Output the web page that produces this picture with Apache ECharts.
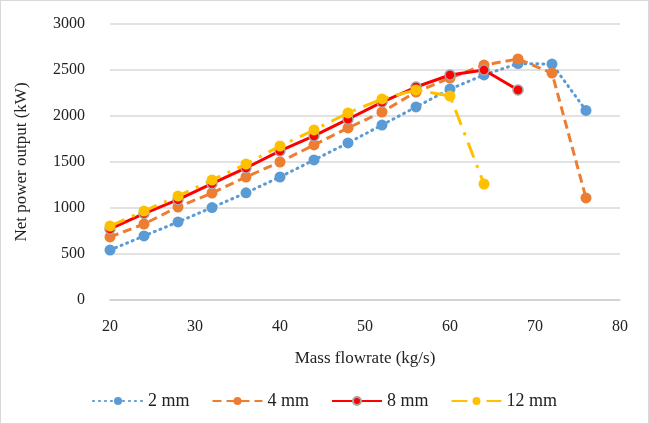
<!DOCTYPE html>
<html lang="en">
<head>
    <meta charset="UTF-8">
    <title>Net power output</title>
    <script src="https://cdn.jsdelivr.net/npm/echarts@6/dist/echarts.min.js"></script>
    <style>
        body { margin: 0; background: #fff; }
        #main { width: 647px; height: 422px; border: 1px solid #d9d9d9; }
    </style>
</head>
<body>
<div id="main"></div>
<script type="text/javascript">
    // mass flowrate (kg/s)
    var flow = [20, 24, 28, 32, 36, 40, 44, 48, 52, 56, 60, 64, 68, 72, 76];
    // net power output (kW)
    var mm2  = [543, 696, 848, 1005, 1165, 1337, 1522, 1707, 1902, 2098, 2293, 2446, 2570, 2565, 2060];
    var mm4  = [685, 826, 1011, 1163, 1337, 1500, 1685, 1870, 2043, 2261, 2413, 2554, 2620, 2467, 1109];
    var mm8  = [772, 940, 1090, 1265, 1435, 1620, 1783, 1965, 2150, 2315, 2446, 2500, 2283];
    var mm12 = [804, 967, 1130, 1304, 1478, 1674, 1848, 2033, 2185, 2283, 2217, 1261];
    var xTicks = [20, 30, 40, 50, 60, 70, 80];
    var yTicks = [0, 500, 1000, 1500, 2000, 2500, 3000];

    function pairs(v) {
        var out = [];
        for (var i = 0; i < v.length; i++) out.push([flow[i], v[i]]);
        return out;
    }

    var font = 'Liberation Serif';
    var myChart = echarts.init(document.getElementById('main'));
    var option = {
        animation: false,
        textStyle: { fontFamily: font },
        grid: { left: 109, right: 28, top: 23, bottom: 123 },
        legend: {
            bottom: 8,
            left: 'center',
            itemWidth: 50,
            itemHeight: 10,
            itemGap: 22,
            textStyle: { fontFamily: font, fontSize: 18, color: '#222' },
            data: ['2 mm', '4 mm', '8 mm', '12 mm']
        },
        xAxis: {
            type: 'value',
            min: xTicks[0],
            max: xTicks[xTicks.length - 1],
            interval: 10,
            name: 'Mass flowrate (kg/s)',
            nameLocation: 'middle',
            nameGap: 50,
            nameTextStyle: { fontFamily: font, fontSize: 17, color: '#222' },
            axisLine: { lineStyle: { color: '#d0d0d0', width: 1.5 } },
            axisTick: { show: false },
            splitLine: { show: false },
            axisLabel: { fontFamily: font, fontSize: 16, color: '#222', margin: 19 }
        },
        yAxis: {
            type: 'value',
            min: yTicks[0],
            max: yTicks[yTicks.length - 1],
            interval: 500,
            name: 'Net power output (kW)',
            nameLocation: 'middle',
            nameGap: 80,
            nameTextStyle: { fontFamily: font, fontSize: 17, color: '#222' },
            axisLine: { show: false },
            axisTick: { show: false },
            splitLine: { lineStyle: { color: '#d9d9d9', width: 1.5 } },
            axisLabel: {
                fontFamily: font, fontSize: 16, color: '#222', margin: 25,
                formatter: function (v) { return String(v); }
            }
        },
        series: [
            {
                name: '2 mm', type: 'line', data: pairs(mm2),
                symbol: 'circle', symbolSize: 11,
                itemStyle: { color: '#5B9BD5' },
                lineStyle: { color: '#5B9BD5', width: 3, type: [1, 5], cap: 'round' },
                z: 2
            },
            {
                name: '4 mm', type: 'line', data: pairs(mm4),
                symbol: 'circle', symbolSize: 11,
                itemStyle: { color: '#ED7D31' },
                lineStyle: { color: '#ED7D31', width: 3, type: [9, 5] },
                z: 3
            },
            {
                name: '8 mm', type: 'line', data: pairs(mm8),
                symbol: 'circle', symbolSize: 10,
                itemStyle: { color: '#FF0000', borderColor: '#A5A5A5', borderWidth: 1.5 },
                lineStyle: { color: '#FF0000', width: 3 },
                z: 4
            },
            {
                name: '12 mm', type: 'line', data: pairs(mm12),
                symbol: 'circle', symbolSize: 11,
                itemStyle: { color: '#FFC000' },
                lineStyle: { color: '#FFC000', width: 3, type: [16, 8, 3, 8] },
                z: 5
            }
        ]
    };
    myChart.setOption(option);
</script>
</body>
</html>
